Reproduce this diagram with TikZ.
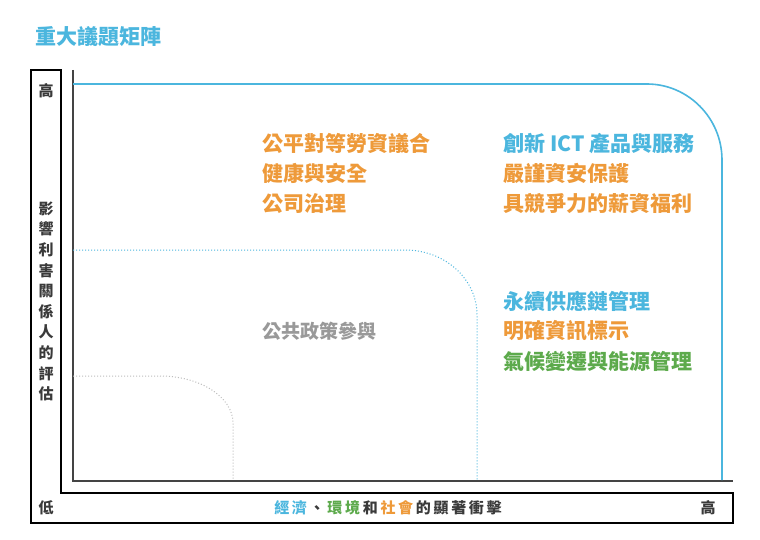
\documentclass[tikz,border=0pt]{standalone}
\usepackage{fontspec}
\setmainfont{Noto Sans CJK TC}
\definecolor{cblue}{HTML}{4BB6DE}
\definecolor{corange}{HTML}{EE9A3A}
\definecolor{cgreen}{HTML}{5DAA4C}
\definecolor{cgray}{HTML}{999999}
\definecolor{cdark}{HTML}{3A3A3A}
\definecolor{caxis}{HTML}{444444}
\definecolor{cdot}{HTML}{BDBDBD}
\newcommand\trk{\kern2.7pt}
\begin{document}
\begin{tikzpicture}[x=1pt,y=-1pt,
  lbl/.style={font=\fontsize{21}{24}\selectfont\bfseries, anchor=west, inner sep=0pt},
  axlbl/.style={font=\fontsize{15}{20.6}\selectfont\bfseries, text=cdark, inner sep=0pt, align=center},
  framebox/.style={draw=black, line width=1.3pt},
  axisline/.style={draw=caxis, line width=1.4pt},
  blueline/.style={draw=cblue, line width=1.6pt},
  dotline/.style={line width=1pt, dash pattern=on 1pt off 2pt}]
\useasboundingbox (0,0) rectangle (760,540);
\fill[white] (0,0) rectangle (760,540);

\node[lbl, font=\fontsize{21}{24}\selectfont\bfseries, text=cblue] (title) at (35,37) {重大議題矩陣};

% outer L-shaped frame
\draw[framebox] (31,70) -- (61,70) -- (61,493) -- (733,493) -- (733,523) -- (31,523) -- cycle;

% axes
\coordinate (o) at (73,481);
\coordinate (ytop) at (73,70);
\coordinate (xend) at (733,481);
\draw[axisline] (ytop) -- (o) -- (xend);

% boundaries
\draw[blueline] (73,84) -- (647,84) .. controls (688,84) and (722,118) .. (722,160) -- (722,480);
\draw[cblue, dotline] (73,250) -- (405,250) .. controls (445,250) and (477,279) .. (477,315) -- (477,480);
\draw[cdot, dotline] (73,376) -- (160,376) .. controls (200,376) and (233,397) .. (233,423) -- (233,480);

% axis labels
\node[axlbl] (yhigh) at (46,91) {高};
\node[axlbl] (ylabel) at (46,301.5) {影\\響\\利\\害\\關\\係\\人\\的\\評\\估};
\node[axlbl] (ylow) at (46,508) {低};
\node[axlbl] (xlabel) at (388,508) {{\color{cblue}經\trk 濟}\trk 、\trk {\color{cgreen}環\trk 境}\trk 和\trk {\color{corange}社\trk 會}\trk 的\trk 顯\trk 著\trk 衝\trk 擊};
\node[axlbl] (xhigh) at (708,508) {高};

% topics
\node[lbl, text=corange] (t1) at (262,143.5) {公平對等勞資議合};
\node[lbl, text=corange] (t2) at (262,173.5) {健康與安全};
\node[lbl, text=corange] (t3) at (262,203.5) {公司治理};

\node[lbl, text=cblue] (t4) at (503,143.5) {創新 ICT 產品與服務};
\node[lbl, text=corange] (t5) at (503,173.5) {嚴謹資安保護};
\node[lbl, text=corange] (t6) at (503,203.5) {具競爭力的薪資福利};

\node[lbl, text=cblue] (t7) at (503,301.5) {永續供應鏈管理};
\node[lbl, text=corange] (t8) at (503,331) {明確資訊標示};
\node[lbl, text=cgreen] (t9) at (503,361) {氣候變遷與能源管理};

\node[lbl, font=\fontsize{19}{22}\selectfont\bfseries, text=cgray] (t10) at (262,331) {公共政策參與};
\end{tikzpicture}
\end{document}
